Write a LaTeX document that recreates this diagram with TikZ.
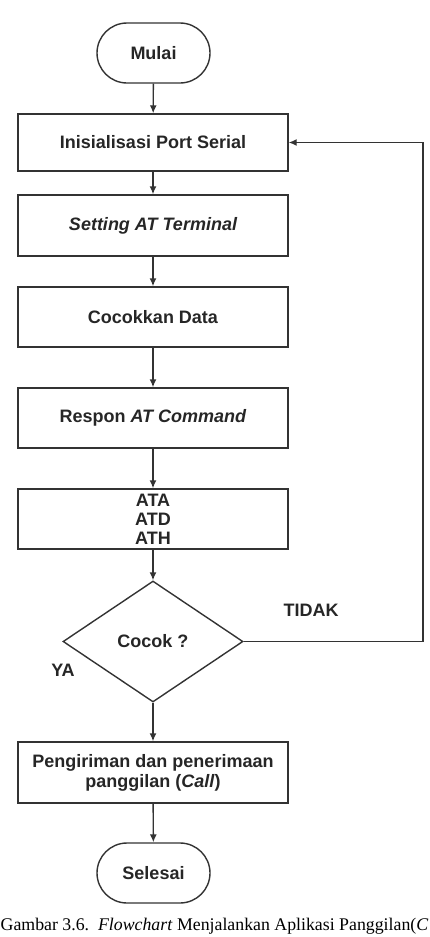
\documentclass[tikz,border=0pt]{standalone}
\usepackage{fontspec}
\setmainfont{Liberation Serif}
\newfontfamily\arialf{Liberation Sans}
\usetikzlibrary{shapes.geometric,shapes.misc,arrows.meta}
\definecolor{ln}{HTML}{333333}
\tikzset{
  x=1pt,y=1pt,
  base/.style={draw=ln,line width=1.4pt,font=\arialf\bfseries\fontsize{18}{19}\selectfont,text=black!85,align=center,inner sep=0pt},
  procbox/.style={base,rectangle,minimum width=270pt},
  termbox/.style={base,rounded rectangle,minimum width=113pt,minimum height=60pt},
  decbox/.style={base,diamond,minimum width=180pt,minimum height=121pt,aspect=1.5},
  conn/.style={draw=ln,line width=1.4pt,-{Latex[length=8pt,width=7pt]}},
  lbl/.style={font=\arialf\bfseries\fontsize{18}{19}\selectfont,text=black!85,inner sep=0pt}
}
\begin{document}
\begin{tikzpicture}
\useasboundingbox (0,0) rectangle (429,-937);
\node[termbox] (start) at (153.5,-53) {Mulai};
\node[procbox,minimum height=57pt] (b1) at (153,-142.5) {Inisialisasi Port Serial};
\node[procbox,minimum height=61pt] (b2) at (153,-225.5) {\itshape Setting AT Terminal};
\node[procbox,minimum height=60pt] (b3) at (153,-317) {Cocokkan Data};
\node[procbox,minimum height=60pt] (b4) at (153,-418) {Respon \textit{AT Command}};
\node[procbox,minimum height=60pt] (b5) at (153,-519) {ATA\\ATD\\ATH};
\node[decbox] (dec) at (153,-641.5) {Cocok ?};
\node[procbox,minimum height=61pt,font=\arialf\bfseries\fontsize{18}{20}\selectfont] (b6) at (153,-772.5) {Pengiriman dan penerimaan\\panggilan (\textit{Call})};
\node[termbox] (end) at (153.5,-873) {Selesai};
\node[lbl] (tidak) at (311,-610) {TIDAK};
\node[lbl] (ya) at (63,-670) {YA};
\coordinate (c1) at (423,-641.5);
\coordinate (c2) at (423,-142.5);
\draw[conn] (start) -- (b1);
\draw[conn] (b1) -- (b2);
\draw[conn] (b2) -- (b3);
\draw[conn] (b3) -- (b4);
\draw[conn] (b4) -- (b5);
\draw[conn] (b5) -- (dec);
\draw[conn] (dec) -- (b6);
\draw[conn] (b6) -- (end);
\draw[conn] (dec.east) -- (c1) -- (c2) -- (b1.east);
\node[anchor=base west,inner sep=0pt,font=\fontsize{17.8}{20}\selectfont] (cap) at (0.5,-930) {Gambar 3.6.\ \ \textit{Flowchart} Menjalankan Aplikasi Panggilan(\textit{C}};
\end{tikzpicture}
\end{document}
